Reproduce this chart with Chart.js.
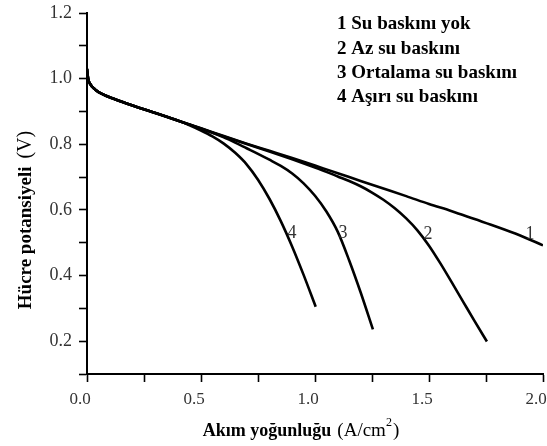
<!DOCTYPE html>
<html>
<head>
<meta charset="utf-8">
<script src="https://cdn.jsdelivr.net/npm/chart.js@4/dist/chart.umd.min.js"></script>
<style>
  html, body { margin: 0; padding: 0; background: #fff; }
  canvas { display: block; }
</style>
</head>
<body>
<canvas id="chart" width="547" height="446"></canvas>
<script>
// Polarization curves: [current density (A/cm²), cell potential (V)]
const curve1 = [[0,1.03],[0.005,1.0],[0.013,0.985],[0.035,0.967],[0.07,0.952],[0.12,0.938],[0.2,0.918],[0.3,0.895],[0.4,0.872],
  [0.5,0.849],[0.6,0.825],[0.7,0.802],[0.8,0.780],[0.9,0.758],[1.0,0.735],[1.1,0.712],[1.2,0.688],[1.3,0.665],[1.4,0.642],
  [1.5,0.618],[1.6,0.596],[1.7,0.572],[1.8,0.548],[1.9,0.522],[2.0,0.492]];
const curve2 = [[0,1.03],[0.005,1.0],[0.013,0.985],[0.035,0.967],[0.07,0.952],[0.12,0.938],[0.2,0.918],[0.3,0.895],[0.4,0.872],
  [0.5,0.848],[0.6,0.824],[0.7,0.801],[0.8,0.778],[0.9,0.754],[1.0,0.729],[1.05,0.716],[1.1,0.702],[1.15,0.688],[1.2,0.672],
  [1.25,0.653],[1.3,0.631],[1.35,0.605],[1.4,0.574],[1.45,0.537],[1.5,0.491],[1.55,0.437],[1.6,0.379],[1.65,0.320],
  [1.7,0.261],[1.754,0.199]];
const curve3 = [[0,1.03],[0.005,1.0],[0.013,0.985],[0.035,0.967],[0.07,0.952],[0.12,0.938],[0.2,0.918],[0.3,0.895],[0.4,0.872],
  [0.45,0.860],[0.5,0.847],[0.55,0.835],[0.6,0.821],[0.65,0.805],[0.7,0.788],[0.75,0.771],[0.8,0.753],[0.85,0.734],
  [0.9,0.711],[0.95,0.681],[1.0,0.643],[1.05,0.595],[1.1,0.533],[1.15,0.446],[1.2,0.349],[1.254,0.236]];
const curve4 = [[0,1.03],[0.005,1.0],[0.013,0.985],[0.035,0.967],[0.07,0.952],[0.12,0.938],[0.2,0.918],[0.3,0.895],[0.4,0.872],
  [0.45,0.858],[0.5,0.842],[0.55,0.824],[0.6,0.802],[0.65,0.774],[0.7,0.739],[0.75,0.692],[0.8,0.634],[0.85,0.566],
  [0.9,0.488],[0.95,0.402],[1.003,0.305]];

const seriesNames = ['1 Su baskını yok', '2 Az su baskını', '3 Ortalama su baskını', '4 Aşırı su baskını'];
// Curve numbers written beside each line: [label, x, y]
const curveTags = [['1', 1.943, 0.527], ['2', 1.496, 0.527], ['3', 1.123, 0.530], ['4', 0.899, 0.530]];
const xTitle = ['Akım yoğunluğu', '(A/cm', '2', ')'];
const yTitle = ['Hücre potansiyeli', '(V)'];

const SERIF = '"Liberation Serif", "Times New Roman", serif';

function toPoints(arr) { return arr.map(p => ({ x: p[0], y: p[1] })); }

const lineStyle = {
  showLine: true, pointRadius: 0, borderColor: '#000', borderWidth: 2.6,
  cubicInterpolationMode: 'monotone', fill: false
};

const annotations = {
  id: 'annotations',
  afterDraw(chart) {
    const ctx = chart.ctx;
    const xs = chart.scales.x, ys = chart.scales.y;
    const area = chart.chartArea;
    ctx.save();

    // series list, top right
    ctx.fillStyle = '#000';
    ctx.font = 'bold 19px ' + SERIF;
    ctx.textAlign = 'left';
    ctx.textBaseline = 'alphabetic';
    const baselines = [29, 54, 78, 102];
    seriesNames.forEach((t, i) => ctx.fillText(t, 337, baselines[i]));

    // curve numbers
    ctx.fillStyle = '#333';
    ctx.font = '18px ' + SERIF;
    ctx.textAlign = 'center';
    ctx.textBaseline = 'middle';
    curveTags.forEach(([t, x, y]) => ctx.fillText(t, xs.getPixelForValue(x), ys.getPixelForValue(y)));

    // x axis title
    ctx.fillStyle = '#000';
    ctx.textBaseline = 'alphabetic';
    ctx.textAlign = 'left';
    const fB = 'bold 18px ' + SERIF, fR = '19px ' + SERIF, fS = '12px ' + SERIF;
    ctx.font = fB; const w0 = ctx.measureText(xTitle[0]).width;
    ctx.font = fR; const gap = 6; const w1 = ctx.measureText(xTitle[1]).width;
    ctx.font = fS; const w2 = ctx.measureText(xTitle[2]).width;
    ctx.font = fR; const w3 = ctx.measureText(xTitle[3]).width;
    const total = w0 + gap + w1 + w2 + 1 + w3;
    let x0 = (area.left + area.right) / 2 - 14 - total / 2;
    const by = 436;
    ctx.font = fB; ctx.fillText(xTitle[0], x0, by); x0 += w0 + gap;
    ctx.font = fR; ctx.fillText(xTitle[1], x0, by); x0 += w1;
    ctx.font = fS; ctx.fillText(xTitle[2], x0, by - 10); x0 += w2 + 1;
    ctx.font = fR; ctx.fillText(xTitle[3], x0, by);

    // y axis title, rotated
    ctx.translate(31, 220);
    ctx.rotate(-Math.PI / 2);
    const yB = 'bold 19px ' + SERIF, yR = '20px ' + SERIF;
    ctx.font = yB; const v0 = ctx.measureText(yTitle[0]).width;
    ctx.font = yR; const v1 = ctx.measureText(yTitle[1]).width;
    const yGap = 8;
    let s = -(v0 + yGap + v1) / 2;
    ctx.font = yB; ctx.fillText(yTitle[0], s, 0); s += v0 + yGap;
    ctx.font = yR; ctx.fillText(yTitle[1], s, 0);
    ctx.restore();
  }
};

function fixScale(w, h) {
  return function (scale) {
    if (w !== null) scale.width = w;
    if (h !== null) scale.height = h;
    scale.paddingTop = 0; scale.paddingBottom = 0;
    scale.paddingLeft = 0; scale.paddingRight = 0;
  };
}

new Chart(document.getElementById('chart'), {
  type: 'scatter',
  data: {
    datasets: [
      Object.assign({ label: seriesNames[0], data: toPoints(curve1) }, lineStyle),
      Object.assign({ label: seriesNames[1], data: toPoints(curve2) }, lineStyle),
      Object.assign({ label: seriesNames[2], data: toPoints(curve3) }, lineStyle),
      Object.assign({ label: seriesNames[3], data: toPoints(curve4) }, lineStyle)
    ]
  },
  options: {
    responsive: false,
    animation: false,
    layout: { padding: { top: 13, right: 4, left: 0, bottom: 0 } },
    plugins: { legend: { display: false }, tooltip: { enabled: false } },
    scales: {
      x: {
        type: 'linear', min: 0, max: 2.0,
        afterFit: fixScale(null, 72),
        border: { display: true, color: '#000', width: 2 },
        grid: { display: true, drawOnChartArea: false, drawTicks: true, tickLength: 8, tickColor: '#000', tickWidth: 1.6 },
        ticks: {
          stepSize: 0.25, autoSkip: false, maxRotation: 0, padding: 7, labelOffset: -7,
          color: '#333', font: { family: SERIF, size: 17 },
          callback: v => (Math.round(v * 4) % 2 === 0 ? v.toFixed(1) : '')
        }
      },
      y: {
        type: 'linear', min: 0.1, max: 1.2,
        afterFit: fixScale(87, null),
        border: { display: true, color: '#000', width: 2 },
        grid: { display: true, drawOnChartArea: false, drawTicks: true, tickLength: 8, tickColor: '#000', tickWidth: 1.6 },
        ticks: {
          stepSize: 0.1, autoSkip: false, padding: 7,
          color: '#333', font: { family: SERIF, size: 18 },
          callback: v => (Math.round(v * 10) % 2 === 0 ? v.toFixed(1) : '')
        }
      }
    }
  },
  plugins: [annotations]
});
</script>
</body>
</html>
